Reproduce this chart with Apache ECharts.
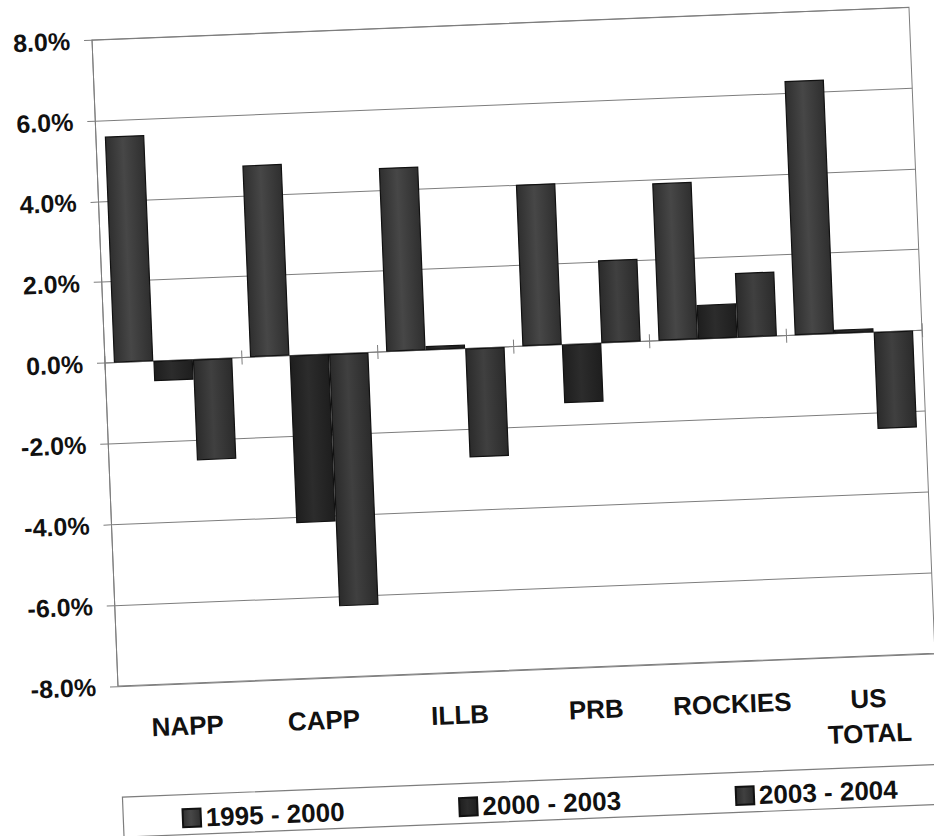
<!DOCTYPE html>
<html>
<head>
<meta charset="utf-8">
<script src="https://cdn.jsdelivr.net/npm/echarts@6/dist/echarts.min.js"></script>
<style>
  html, body { margin: 0; padding: 0; background: #ffffff; overflow: hidden; }
  #chart {
    width: 934px; height: 836px;
    transform: rotate(-2.3deg);
    transform-origin: 467px 418px;
  }
</style>
</head>
<body>
<div id="chart"></div>
<script>
// Coal production growth by region (annual %, three periods)
const regions = ['NAPP', 'CAPP', 'ILLB', 'PRB', 'ROCKIES', 'US\nTOTAL'];
const periods = ['1995 - 2000', '2000 - 2003', '2003 - 2004'];
const growth1995to2000 = [5.6, 4.75, 4.55, 4.0, 3.9, 6.3];
const growth2000to2003 = [-0.5, -4.15, 0.1, -1.45, 0.85, 0.1];
const growth2003to2004 = [-2.5, -6.25, -2.7, 2.05, 1.6, -2.4];
const yMin = -8, yMax = 8, yStep = 2;

const FONT = "'Liberation Sans', Arial, Helvetica, sans-serif";
const GRID_GRAY = '#7d7d7d';

function shade(edge, mid) {
  return {
    type: 'linear', x: 0, y: 0, x2: 1, y2: 0,
    colorStops: [
      { offset: 0, color: edge },
      { offset: 0.45, color: mid },
      { offset: 1, color: edge }
    ]
  };
}
const fills = [
  shade('#2f2f2f', '#474747'),
  shade('#1e1e1e', '#2c2c2c'),
  shade('#2b2b2b', '#404040')
];
const seriesValues = [growth1995to2000, growth2000to2003, growth2003to2004];

const chart = echarts.init(document.getElementById('chart'), null, { renderer: 'svg' });

chart.setOption({
  animation: false,
  backgroundColor: '#ffffff',
  textStyle: { fontFamily: FONT },
  grid: {
    left: 107.5, top: 25.3, width: 817.6, height: 646.5,
    show: true, borderColor: GRID_GRAY, borderWidth: 1,
    containLabel: false, outerBoundsMode: 'none'
  },
  legend: {
    data: periods,
    left: 161, top: 788,
    icon: 'rect', itemWidth: 18, itemHeight: 18, itemGap: 114,
    textStyle: { fontFamily: FONT, fontSize: 26, fontWeight: 'bold', color: '#111', lineHeight: 27 }
  },
  graphic: [{
    type: 'rect',
    shape: { x: 107.5, y: 783, width: 817.6, height: 40 },
    style: { fill: 'none', stroke: GRID_GRAY, lineWidth: 1.2 },
    silent: true
  }],
  xAxis: [
    {
      // axis carrying the bars, drawn on the zero line with ticks below it
      type: 'category', data: regions, position: 'bottom',
      axisLine: { show: true, onZero: true, onZeroAxisIndex: 0, lineStyle: { color: GRID_GRAY, width: 1 } },
      axisTick: { show: true, length: 7, lineStyle: { color: GRID_GRAY } },
      axisLabel: { show: false }
    },
    {
      // ticks above the zero line
      type: 'category', data: regions, position: 'top',
      axisLine: { show: false, onZero: true, onZeroAxisIndex: 0 },
      axisTick: { show: true, length: 7, lineStyle: { color: GRID_GRAY } },
      axisLabel: { show: false }
    },
    {
      // region names along the bottom of the plot
      type: 'category', data: regions, position: 'bottom',
      axisLine: { show: false, onZero: false },
      axisTick: { show: false },
      axisLabel: {
        show: true, margin: 25, interval: 0,
        fontFamily: FONT, fontSize: 26, fontWeight: 'bold', color: '#111', lineHeight: 35
      }
    }
  ],
  yAxis: {
    type: 'value', min: yMin, max: yMax, interval: yStep,
    axisLine: { show: true, lineStyle: { color: GRID_GRAY } },
    axisTick: { show: true, length: 8, lineStyle: { color: GRID_GRAY } },
    splitLine: { show: true, lineStyle: { color: GRID_GRAY, width: 1 } },
    axisLabel: {
      margin: 22, fontFamily: FONT, fontSize: 25, fontWeight: 'bold', color: '#111',
      formatter: v => v.toFixed(1) + '%'
    }
  },
  series: periods.map((name, i) => ({
    name: name,
    type: 'bar',
    xAxisIndex: 0,
    data: seriesValues[i],
    barGap: '0%',
    barCategoryGap: '13%',
    itemStyle: { color: fills[i], borderColor: '#111', borderWidth: 1.2 }
  }))
});
</script>
</body>
</html>
